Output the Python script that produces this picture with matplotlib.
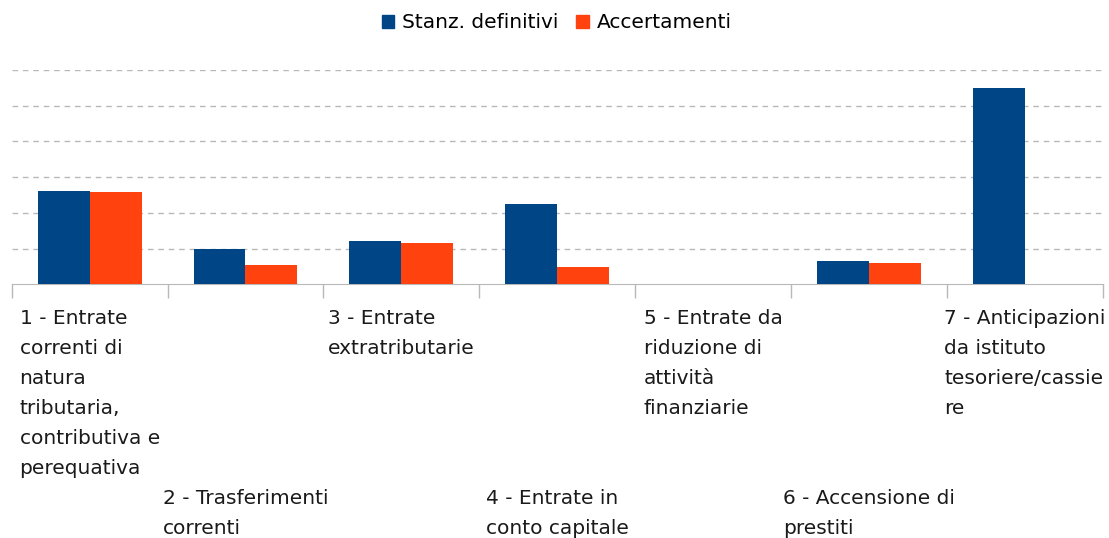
import numpy as np
import matplotlib
matplotlib.use("Agg")
import matplotlib.pyplot as plt
from matplotlib.patches import Patch

# category labels, wrapped as in the original chart
categories = [
    "1 - Entrate\ncorrenti di\nnatura\ntributaria,\ncontributiva e\nperequativa",
    "2 - Trasferimenti\ncorrenti",
    "3 - Entrate\nextratributarie",
    "4 - Entrate in\nconto capitale",
    "5 - Entrate da\nriduzione di\nattività\nfinanziarie",
    "6 - Accensione di\nprestiti",
    "7 - Anticipazioni\nda istituto\ntesoriere/cassie\nre",
]
# values in gridline units (the chart shows no y scale)
stanz_definitivi = [2.61, 0.99, 1.22, 2.25, 0.0, 0.64, 5.51]
accertamenti = [2.58, 0.55, 1.17, 0.49, 0.0, 0.59, 0.0]
series_names = ["Stanz. definitivi", "Accertamenti"]

BLUE = "#004586"
ORANGE = "#ff420e"
GRID = "#b8b8b8"
FS = 14.5

plt.rcParams["font.family"] = ["DejaVu Sans"]

W, H = 1109, 538
fig = plt.figure(figsize=(W / 100, H / 100), dpi=100)
ax_left, ax_right, ax_top, ax_bottom = 11.7, 1102.7, 70.0, 284.3
ax = fig.add_axes([ax_left / W, 1 - ax_bottom / H,
                   (ax_right - ax_left) / W, (ax_bottom - ax_top) / H])

x = np.arange(len(categories))
bw = 1 / 3
ax.bar(x - bw / 2, stanz_definitivi, bw, color=BLUE, zorder=3)
ax.bar(x + bw / 2, accertamenti, bw, color=ORANGE, zorder=3)

ax.set_xlim(-0.5, len(categories) - 0.5)
ax.set_ylim(0, 6)
ax.set_yticks(np.arange(1, 7))
ax.yaxis.grid(True, color=GRID, linestyle=(0, (4, 3.5)), linewidth=1)
ax.tick_params(axis="y", left=False, labelleft=False)
ax.set_xticks(np.arange(len(categories) + 1) - 0.5)
ax.tick_params(axis="x", color=GRID, length=10, width=1, labelbottom=False)
for s in ["top", "right", "left"]:
    ax.spines[s].set_visible(False)
ax.spines["bottom"].set_color(GRID)

# staggered category labels: odd on the first row, even on the second
span = ax_bottom - ax_top
for i, lab in enumerate(categories):
    top_px = 309 if i % 2 == 0 else 489
    ax.text(i, (ax_bottom - top_px) / span, lab,
            transform=ax.get_xaxis_transform(), ha="center", va="top",
            multialignment="left", fontsize=FS, linespacing=1.73,
            color="#1a1a1a", clip_on=False)

handles = [Patch(color=BLUE), Patch(color=ORANGE)]
fig.legend(handles, series_names, loc="center", bbox_to_anchor=(0.502, 1 - 23 / H),
           ncol=2, frameon=False, fontsize=FS, handlelength=0.6, handleheight=0.6,
           handletextpad=0.4, columnspacing=0.9)

fig.savefig("out.png", dpi=100)
